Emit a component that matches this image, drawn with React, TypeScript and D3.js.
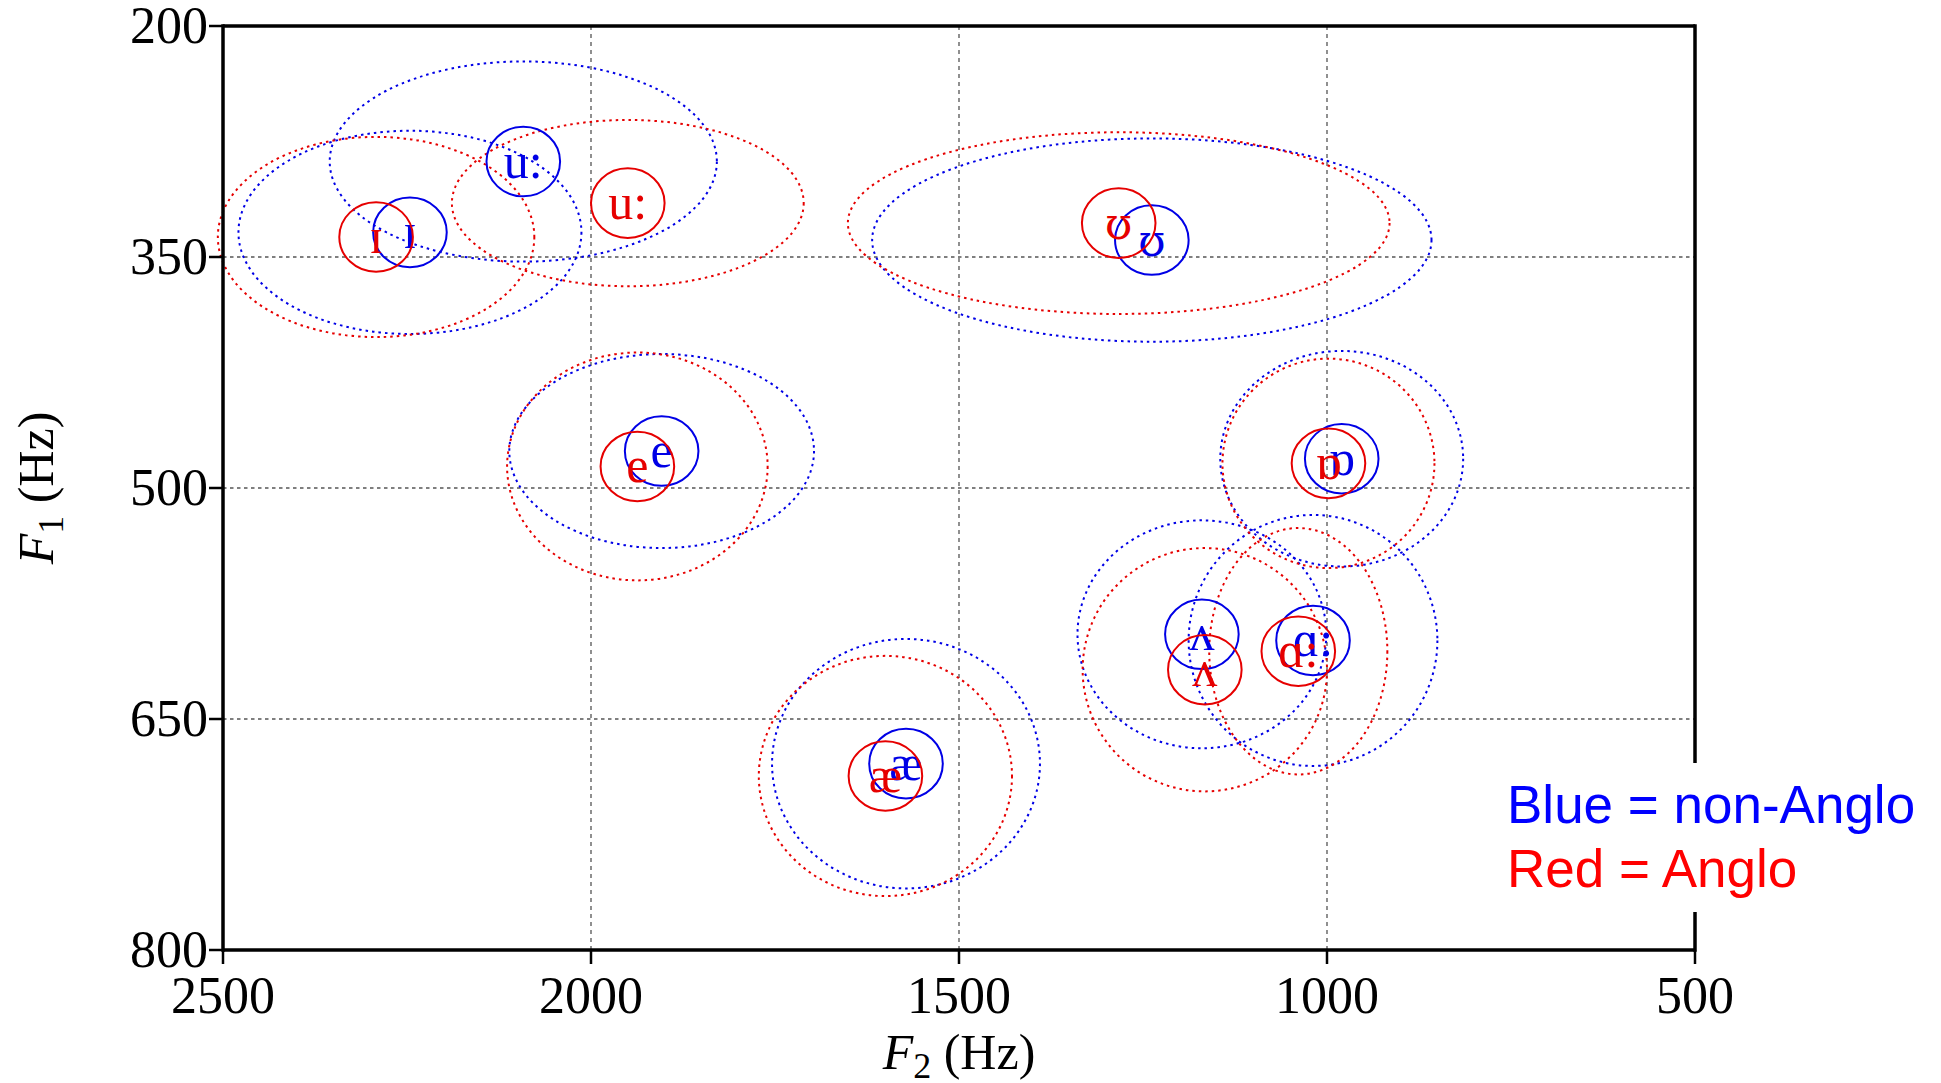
import React from 'react';
import { scaleLinear } from 'd3';

const width = 1941;
const height = 1083;

// vowel labels (IPA)
const vowels = ['ɪ', 'u:', 'ʊ', 'e', 'ɒ', 'ʌ', 'ɑ:', 'æ'];

// non-Anglo (blue) means, Hz
const blueF2 = [2246, 2092, 1238, 1904, 980, 1170, 1019, 1572];
const blueF1 = [334, 288, 339, 476, 481, 595, 599, 679];
// non-Anglo spread (ellipse radii), Hz
const blueSdF2 = [233, 263, 380, 207, 165, 169, 169, 182];
const blueSdF1 = [66, 65, 66, 63, 70, 74, 81.5, 81];

// Anglo (red) means, Hz
const redF2 = [2292, 1950, 1283, 1937, 998, 1166, 1039, 1600];
const redF1 = [337, 315, 328, 486, 484, 618, 606, 687];
// Anglo spread, Hz
const redSdF2 = [215, 239, 368, 177, 144, 166, 121, 172];
const redSdF1 = [65, 54, 59, 74, 68, 79, 80, 78];

// size of the ring round each mean, Hz
const meanRingF2 = 50;
const meanRingF1 = 22.6;

const xTicks = [2500, 2000, 1500, 1000, 500];
const yTicks = [200, 350, 500, 650, 800];
const xGrid = [2000, 1500, 1000];
const yGrid = [350, 500, 650];

const legendLines = ['Blue = non-Anglo', 'Red = Anglo'];

const BLUE = '#0000e6';
const RED = '#e60000';

const serif = '"Liberation Serif", "DejaVu Serif", serif';
const sans = '"Liberation Sans", Arial, sans-serif';

const App = () => {
  const x = scaleLinear().domain([2500, 500]).range([223, 1695]);
  const y = scaleLinear().domain([200, 800]).range([26, 950]);
  const [x0, x1] = x.range();
  const [y0, y1] = y.range();

  const groups = [
    { color: BLUE, f2: blueF2, f1: blueF1, sd2: blueSdF2, sd1: blueSdF1 },
    { color: RED, f2: redF2, f1: redF1, sd2: redSdF2, sd1: redSdF1 },
  ];

  // radius in Hz -> pixels
  const rx = (hz: number) => Math.abs(x(2500 - hz) - x(2500));
  const ry = (hz: number) => Math.abs(y(200 + hz) - y(200));

  // Liberation Serif draws the upsilon with a flat top; DejaVu is closer
  const labelFont = (v: string) => (v === 'ʊ' ? '"DejaVu Serif", serif' : serif);
  const labelSize = (v: string) => (v === 'ʊ' ? 44 : 50);

  return (
    <svg width={width} height={height} style={{ position: 'absolute', left: 0, top: 0, background: '#fff' }}>
      {/* grid */}
      {yGrid.map(v => (
        <line key={'gy' + v} x1={x0} x2={x1} y1={y(v)} y2={y(v)}
          stroke="#555" strokeWidth={1.4} strokeDasharray="3.5 3.5" />
      ))}
      {xGrid.map(v => (
        <line key={'gx' + v} x1={x(v)} x2={x(v)} y1={y0} y2={y1}
          stroke="#555" strokeWidth={1.3} strokeDasharray="4 4" />
      ))}

      {/* spread ellipses */}
      {groups.map((g, gi) => vowels.map((v, i) => (
        <ellipse key={`sd${gi}-${i}`} cx={x(g.f2[i])} cy={y(g.f1[i])}
          rx={rx(g.sd2[i])} ry={ry(g.sd1[i])}
          fill="none" stroke={g.color} strokeWidth={2} strokeDasharray="2.5 4" />
      )))}

      {/* means */}
      {groups.map((g, gi) => vowels.map((v, i) => (
        <g key={`m${gi}-${i}`}>
          <ellipse cx={x(g.f2[i])} cy={y(g.f1[i])}
            rx={rx(meanRingF2)} ry={ry(meanRingF1)}
            fill="none" stroke={g.color} strokeWidth={2} />
          <text x={x(g.f2[i])} y={y(g.f1[i]) + 16} textAnchor="middle"
            fontFamily={labelFont(v)} fontSize={labelSize(v)} fill={g.color}>{v}</text>
        </g>
      )))}

      {/* frame */}
      <line x1={x0} x2={x1} y1={y0} y2={y0} stroke="#000" strokeWidth={3.5} />
      <line x1={x0} x2={x1} y1={y1} y2={y1} stroke="#000" strokeWidth={3.5} />
      <line x1={x0} x2={x0} y1={y0 - 1.75} y2={y1 + 1.75} stroke="#000" strokeWidth={3.5} />
      <line x1={x1} x2={x1} y1={y0 - 1.75} y2={y1 + 1.75} stroke="#000" strokeWidth={3.5} />

      {/* y axis */}
      {yTicks.map(v => (
        <g key={'ty' + v}>
          <line x1={x0 - 14} x2={x0} y1={y(v)} y2={y(v)} stroke="#000" strokeWidth={2.5} />
          <text x={x0 - 15} y={y(v) + 17} textAnchor="end" fontFamily={serif} fontSize={52}>{v}</text>
        </g>
      ))}
      {/* x axis */}
      {xTicks.map(v => (
        <g key={'tx' + v}>
          <line x1={x(v)} x2={x(v)} y1={y1} y2={y1 + 14} stroke="#000" strokeWidth={2.5} />
          <text x={x(v)} y={1013} textAnchor="middle" fontFamily={serif} fontSize={52}>{v}</text>
        </g>
      ))}

      {/* axis titles */}
      <text x={(x0 + x1) / 2} y={1069} textAnchor="middle" fontFamily={serif} fontSize={50}>
        <tspan fontStyle="italic">F</tspan>
        <tspan fontSize={36} dy={9}>2</tspan>
        <tspan dy={-9}> (Hz)</tspan>
      </text>
      <text transform={`translate(53, ${(y0 + y1) / 2}) rotate(-90)`} textAnchor="middle"
        fontFamily={serif} fontSize={50}>
        <tspan fontStyle="italic">F</tspan>
        <tspan fontSize={36} dy={10}>1</tspan>
        <tspan dy={-10}> (Hz)</tspan>
      </text>

      {/* legend */}
      <rect x={1497} y={763} width={444} height={149} fill="#fff" />
      {legendLines.map((t, i) => (
        <text key={t} x={1507} y={823 + i * 64} fontFamily={sans} fontSize={53}
          fill={i === 0 ? '#0000ff' : '#ff0000'}>{t}</text>
      ))}
    </svg>
  );
};

export default App;
